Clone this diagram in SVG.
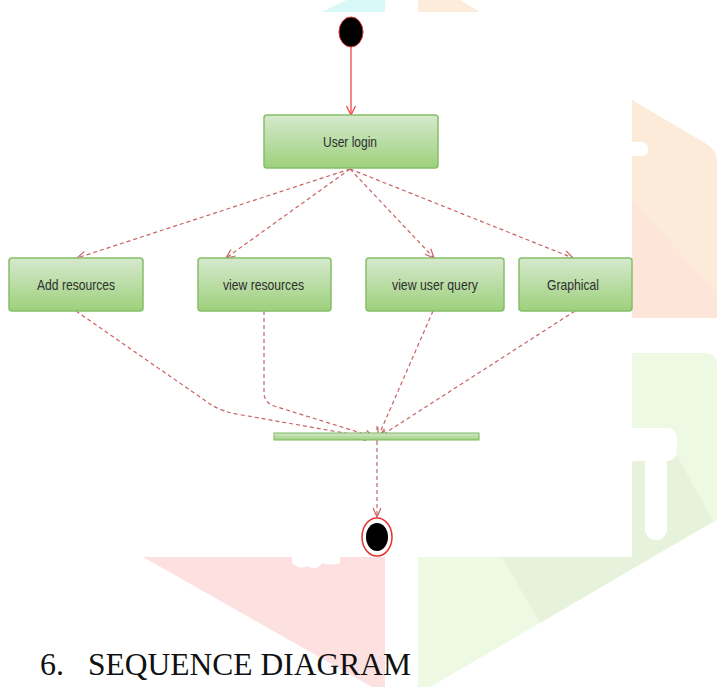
<svg xmlns="http://www.w3.org/2000/svg" width="717" height="687" viewBox="0 0 717 687">
  <style>
    .box { fill: url(#boxFill); stroke: #86bf6a; stroke-width: 1.5; }
    .lbl { font-family: "Liberation Sans", Arial, sans-serif; font-size: 15px; fill: #2e2e2e; text-anchor: middle; }
    .flow { fill: none; stroke: #c96262; stroke-width: 1.2; stroke-dasharray: 4 3; }
    .title { font-family: "Liberation Serif", "Times New Roman", serif; font-size: 32px; fill: #111111; }
  </style>
  <defs>
    <linearGradient id="boxFill" x1="0" y1="0" x2="0" y2="1">
      <stop offset="0" stop-color="#d6e9ce"/>
      <stop offset="1" stop-color="#9dd07b"/>
    </linearGradient>
    <marker id="openHead" markerWidth="12" markerHeight="10" refX="10" refY="5" orient="auto" markerUnits="userSpaceOnUse">
      <path d="M1,1 L10,5 L1,9" fill="none" stroke="#c96262" stroke-width="1.2"/>
    </marker>
    <marker id="solidHead" markerWidth="12" markerHeight="12" refX="10" refY="6" orient="auto" markerUnits="userSpaceOnUse">
      <path d="M1,1.5 L10,6 L1,10.5" fill="none" stroke="#f04848" stroke-width="1.3"/>
    </marker>
  </defs>

  <rect width="717" height="687" fill="#ffffff"/>

  <!-- faint background emblem -->
  <g id="backdrop">
    <polygon points="321,12 347,0 385,0 385,12" fill="#d9f9f9"/>
    <polygon points="418,0 460,0 480,12 418,12" fill="#fdecda"/>
    <path d="M632,100 L705,143 Q717,150 717,162 L717,318 L632,318 Z" fill="#fdebd9"/>
    <polygon points="632,200 717,293 717,318 632,318" fill="#fde5da"/>
    <rect x="628" y="142" width="20" height="14" rx="6" fill="#ffffff"/>
    <path d="M632,353 L705,353 Q717,353 717,365 L717,520 L430,687 L418,687 L418,557 L632,557 Z" fill="#eef9e3"/>
    <polygon points="502,557 632,557 632,463 672,447 713,521 540,623" fill="#e7f2dd"/>
    <rect x="620" y="428" width="57" height="33" rx="9" fill="#ffffff"/>
    <rect x="645" y="440" width="22" height="100" rx="11" fill="#ffffff"/>
    <polygon points="143,557 385,557 385,687 372,687" fill="#fde1e1"/>
    <path d="M292,556 L340,556 L340,563 Q330,566 322,563 Q316,572 308,566 Q300,570 292,563 Z" fill="#ffffff"/>
  </g>

  <!-- connectors -->
  <g id="connectors">
    <path d="M351,47 L351,115" fill="none" stroke="#f04848" stroke-width="1.3" marker-end="url(#solidHead)"/>
    <path class="flow" d="M350,169 L77,258" marker-end="url(#openHead)"/>
    <path class="flow" d="M350,169 L226,258" marker-end="url(#openHead)"/>
    <path class="flow" d="M350,169 L434,258" marker-end="url(#openHead)"/>
    <path class="flow" d="M350,169 L573,258" marker-end="url(#openHead)"/>
    <path class="flow" d="M76,311 L210,404 Q222,412 242,415 L373,438" marker-end="url(#openHead)"/>
    <path class="flow" d="M264,311 L264,394 Q265,403 274,406 L374,437" marker-end="url(#openHead)"/>
    <path class="flow" d="M433,311 L378,437" marker-end="url(#openHead)"/>
    <path class="flow" d="M575,311 L379,437" marker-end="url(#openHead)"/>
    <path class="flow" d="M377,426 L377,441"/>
    <path class="flow" d="M377,441 L377,517" marker-end="url(#openHead)"/>
  </g>

  <g id="start">
    <ellipse cx="351" cy="32" rx="12" ry="15" fill="#000000" stroke="#e03030" stroke-width="1"/>
  </g>

  <g id="user-login">
    <rect class="box" x="264" y="115" width="174" height="53" rx="3"/>
    <text class="lbl" x="350" y="147" textLength="54" lengthAdjust="spacingAndGlyphs">User login</text>
  </g>

  <g id="add-resources">
    <rect class="box" x="9" y="258" width="134" height="53" rx="3"/>
    <text class="lbl" x="76" y="290" textLength="78" lengthAdjust="spacingAndGlyphs">Add resources</text>
  </g>

  <g id="view-resources">
    <rect class="box" x="198" y="258" width="133" height="53" rx="3"/>
    <text class="lbl" x="263.5" y="290" textLength="81" lengthAdjust="spacingAndGlyphs">view resources</text>
  </g>

  <g id="view-user-query">
    <rect class="box" x="366" y="258" width="138" height="53" rx="3"/>
    <text class="lbl" x="435" y="290" textLength="86" lengthAdjust="spacingAndGlyphs">view user query</text>
  </g>

  <g id="graphical">
    <rect class="box" x="519" y="258" width="113" height="53" rx="3"/>
    <text class="lbl" x="573" y="290" textLength="52" lengthAdjust="spacingAndGlyphs">Graphical</text>
  </g>

  <g id="join-bar">
    <rect x="274" y="433" width="205" height="7" fill="url(#boxFill)" stroke="#7db860" stroke-width="1"/>
  </g>

  <g id="end">
    <ellipse cx="377" cy="537" rx="15" ry="19" fill="#ffffff" stroke="#e83030" stroke-width="1.5"/>
    <ellipse cx="377" cy="537" rx="11" ry="14" fill="#000000"/>
  </g>

  <text class="title" y="675"><tspan x="40">6.</tspan><tspan x="88" textLength="323" lengthAdjust="spacingAndGlyphs">SEQUENCE DIAGRAM</tspan></text>
</svg>
